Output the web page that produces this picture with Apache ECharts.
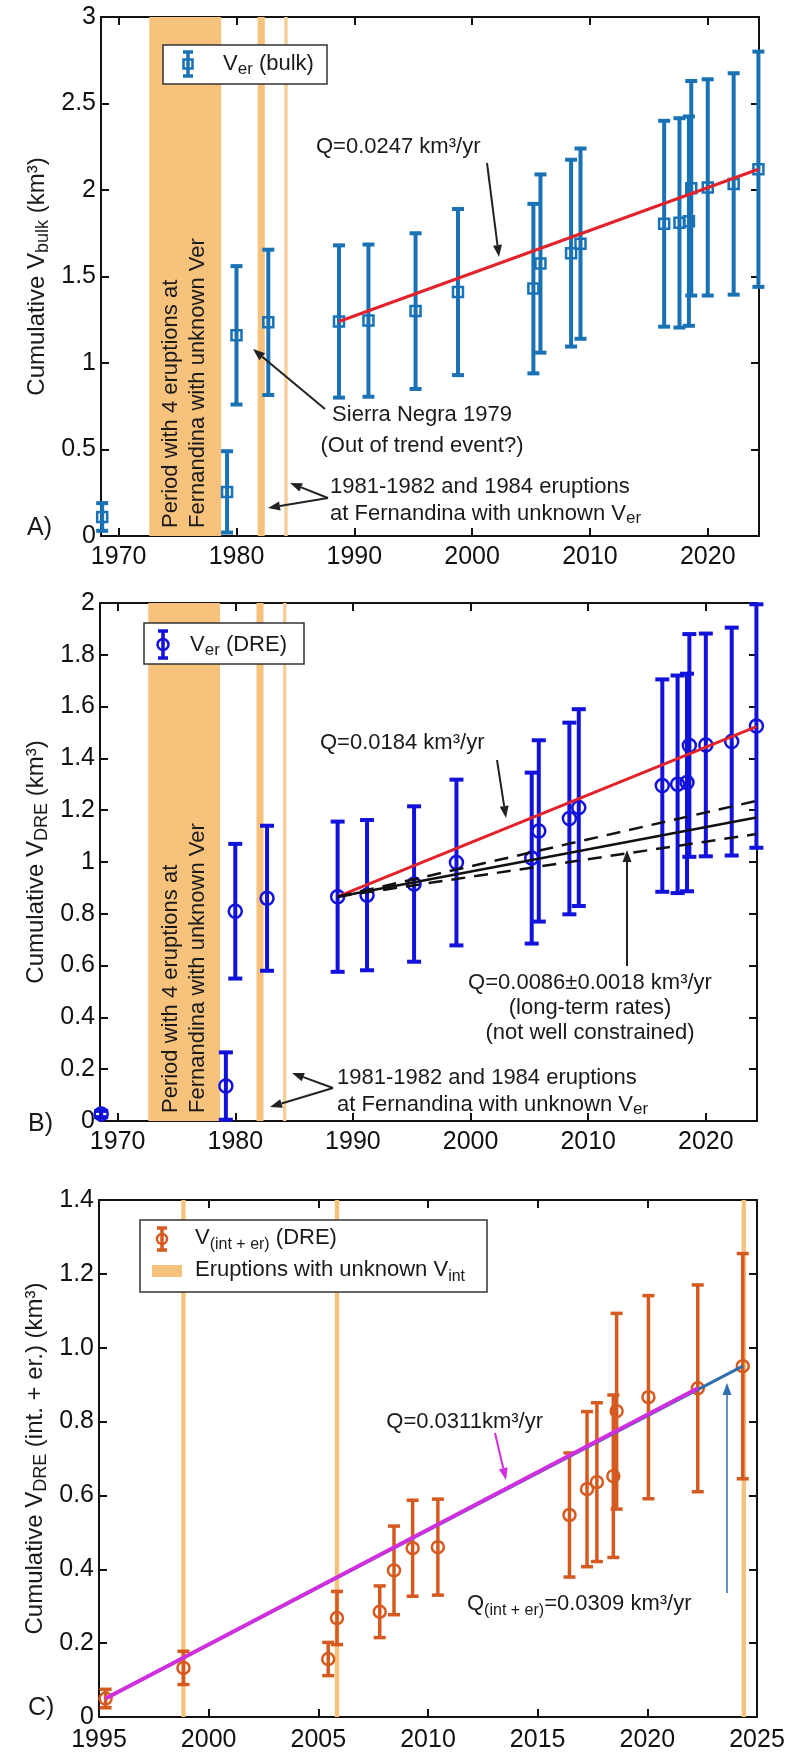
<!DOCTYPE html>
<html>
<head>
<meta charset="utf-8">
<title>Cumulative erupted volumes</title>
<script src="https://cdn.jsdelivr.net/npm/echarts@6/dist/echarts.min.js"></script>
<style>
	html, body { margin: 0; padding: 0; background: #fff; }
	#chart { width: 787px; height: 1755px; }
</style>
</head>
<body>
<div id="chart"></div>
<script>
	// eruption dates, panels A and B
	let yearsAB = [1968.6, 1979.2, 1980.0, 1982.7, 1988.7, 1991.2, 1995.2, 1998.8, 2005.2, 2005.8, 2008.4, 2009.2, 2016.3, 2017.6, 2018.4, 2018.6, 2020.0, 2022.2, 2024.3];
	// A) cumulative bulk volume and its error
	let bulkVol = [0.11, 0.255, 1.16, 1.235, 1.24, 1.245, 1.30, 1.41, 1.43, 1.575, 1.635, 1.69, 1.805, 1.81, 1.82, 2.01, 2.015, 2.035, 2.12];
	let bulkErr = [0.08, 0.235, 0.40, 0.42, 0.44, 0.44, 0.45, 0.48, 0.49, 0.515, 0.54, 0.55, 0.595, 0.605, 0.605, 0.62, 0.625, 0.64, 0.68];
	// B) cumulative DRE volume and its error
	let dreVol = [0.027, 0.135, 0.81, 0.86, 0.866, 0.872, 0.915, 0.998, 1.015, 1.12, 1.168, 1.21, 1.295, 1.30, 1.307, 1.45, 1.452, 1.465, 1.525];
	let dreErr = [0.012, 0.13, 0.26, 0.28, 0.29, 0.29, 0.30, 0.32, 0.33, 0.35, 0.37, 0.38, 0.41, 0.42, 0.42, 0.43, 0.43, 0.44, 0.47];
	// C) intrusive + erupted DRE volume
	let yearsC = [1995.3, 1998.85, 2005.45, 2005.85, 2007.8, 2008.45, 2009.3, 2010.45, 2016.45, 2017.25, 2017.7, 2018.45, 2018.6, 2020.05, 2022.3, 2024.35];
	let intVol = [0.05, 0.133, 0.157, 0.268, 0.285, 0.397, 0.457, 0.46, 0.547, 0.617, 0.636, 0.652, 0.828, 0.866, 0.89, 0.95];
	let intErr = [0.025, 0.045, 0.045, 0.072, 0.07, 0.12, 0.13, 0.13, 0.168, 0.21, 0.215, 0.22, 0.265, 0.275, 0.28, 0.305];

	// eruptions with unknown volume
	let unknownPeriods = [[1972.6, 1978.7], [1981.8, 1982.4], [1984.05, 1984.35]];
	let unknownIntYears = [1998.85, 2005.85, 2024.4];

	// fitted rates (end points)
	let fitBulkX = [1988.7, 2024.3];
	let fitBulkY = [1.24, 2.12];
	let fitDreX = [1988.7, 2024.3];
	let fitDreY = [0.866, 1.523];
	let longTermX = [1988.7, 2024.3];
	let longTermY = [0.866, 1.172];
	let longTermHiY = [0.866, 1.236];
	let longTermLoY = [0.866, 1.108];
	let fitIntX = [1995.3, 2024.35];
	let fitIntY = [0.05, 0.95];
	let fitInt2X = [1995.3, 2022.3];
	let fitInt2Y = [0.05, 0.89];

	let ticksAB = [1970, 1980, 1990, 2000, 2010, 2020];

	const FONT = '"Liberation Sans", Arial, Helvetica, sans-serif';
	const TXT = '#1a1a1a';
	const AX = '#111';
	const ORANGE = '#f6c27c';
	const ORANGE_LIGHT = '#f5cf9c';

	function pairs(xs, ys) {
		return xs.map((x, i) => [x, ys[i]]);
	}

	function triples(xs, ys, es) {
		return xs.map((x, i) => [x, ys[i], es[i]]);
	}

	function richSet(size, subSize, lh, subLh) {
		return {
			n: { fontFamily: FONT, fontSize: size, lineHeight: lh, color: TXT },
			s: { fontFamily: FONT, fontSize: subSize, lineHeight: subLh, verticalAlign: 'bottom', color: TXT }
		};
	}

	let annRich = richSet(22, 17, 27, 14);
	let annRichC = richSet(22, 16, 30, 12);

	function grid(left, top, width, height) {
		return { left: left, top: top, width: width, height: height, outerBoundsMode: 'none', containLabel: false };
	}

	function xAxes(gi, min, max, custom, interval, margin) {
		let tick = { show: true, inside: true, length: 8, lineStyle: { color: AX, width: 2 } };
		let lab = { fontFamily: FONT, fontSize: 25, color: AX, margin: margin, formatter: v => String(v) };
		if (custom) {
			tick.customValues = custom;
			lab.customValues = custom;
		}
		let bottom = {
			type: 'value', gridIndex: gi, min: min, max: max, position: 'bottom',
			axisLine: { show: true, onZero: false, lineStyle: { color: AX, width: 2 } },
			axisTick: tick, axisLabel: lab, splitLine: { show: false }
		};
		if (interval) bottom.interval = interval;
		let top = Object.assign({}, bottom, {
			position: 'top',
			axisLabel: Object.assign({}, lab, { show: false })
		});
		return [bottom, top];
	}

	function yAxes(gi, max, interval, name, fmt) {
		let left = {
			type: 'value', gridIndex: gi, min: 0, max: max, interval: interval, position: 'left',
			axisLine: { show: true, onZero: false, lineStyle: { color: AX, width: 2 } },
			axisTick: { show: true, inside: true, length: 8, lineStyle: { color: AX, width: 2 } },
			axisLabel: { fontFamily: FONT, fontSize: 25, color: AX, margin: 5, formatter: fmt },
			splitLine: { show: false },
			name: name, nameLocation: 'middle', nameRotate: 90, nameGap: 49, nameMoveOverlap: false,
			nameTextStyle: { fontFamily: FONT, fontSize: 24, color: TXT, rich: richSet(24, 18, 30, 16) }
		};
		let right = Object.assign({}, left, {
			position: 'right', name: '',
			axisLabel: { show: false }
		});
		return [left, right];
	}

	function bandSeries(xi, yi, data) {
		return {
			type: 'custom', xAxisIndex: xi, yAxisIndex: yi, z: 1, silent: true,
			encode: { x: [0, 1] },
			data: data,
			renderItem: function(params, api) {
				let x0 = api.coord([api.value(0), 0])[0];
				let x1 = api.coord([api.value(1), 0])[0];
				let cs = params.coordSys;
				return {
					type: 'rect',
					shape: { x: x0, y: cs.y, width: Math.max(x1 - x0, 2), height: cs.height },
					style: { fill: params.dataIndex === 2 ? ORANGE_LIGHT : ORANGE }
				};
			}
		};
	}

	function lineBandSeries(xi, yi, data) {
		return {
			type: 'custom', xAxisIndex: xi, yAxisIndex: yi, z: 1, silent: true,
			encode: { x: 0 },
			data: data.map(v => [v]),
			renderItem: function(params, api) {
				let x = api.coord([api.value(0), 0])[0];
				let cs = params.coordSys;
				return {
					type: 'rect',
					shape: { x: x - 2.2, y: cs.y, width: 4.4, height: cs.height },
					style: { fill: ORANGE }
				};
			}
		};
	}

	function errSeries(xi, yi, data, color, marker, opt) {
		return {
			type: 'custom', xAxisIndex: xi, yAxisIndex: yi, z: 3,
			encode: { x: 0, y: 1 },
			data: data,
			renderItem: function(params, api) {
				let x = api.value(0), y = api.value(1), e = api.value(2);
				let p = api.coord([x, y]);
				let hi = api.coord([x, y + e])[1];
				let lo = api.coord([x, y - e])[1];
				let w = opt.cap;
				let st = { stroke: color, lineWidth: opt.lw };
				let children = [
					{ type: 'line', shape: { x1: p[0], y1: hi, x2: p[0], y2: lo }, style: st },
					{ type: 'line', shape: { x1: p[0] - w, y1: hi, x2: p[0] + w, y2: hi }, style: st },
					{ type: 'line', shape: { x1: p[0] - w, y1: lo, x2: p[0] + w, y2: lo }, style: st }
				];
				if (marker === 'square') {
					children.push({ type: 'rect', shape: { x: p[0] - opt.size, y: p[1] - opt.size, width: opt.size * 2, height: opt.size * 2 },
						style: { fill: 'none', stroke: color, lineWidth: opt.mlw } });
				} else {
					children.push({ type: 'circle', shape: { cx: p[0], cy: p[1], r: opt.size },
						style: { fill: 'none', stroke: color, lineWidth: opt.mlw } });
				}
				return { type: 'group', children: children };
			}
		};
	}

	function fitSeries(xi, yi, data, color, width, dash, z) {
		return {
			type: 'line', xAxisIndex: xi, yAxisIndex: yi, z: z || 4, silent: true,
			data: data, showSymbol: false, symbol: 'none',
			lineStyle: { color: color, width: width, type: dash || 'solid' }
		};
	}

	// annotation helpers (pixel positions)
	function label(x, y, text, align, rich) {
		return {
			type: 'text', x: x, y: y, z: 60,
			style: { text: text, fontFamily: FONT, fontSize: 22, fill: TXT, align: align || 'left', verticalAlign: 'middle', rich: rich || annRich }
		};
	}

	function arrow(x1, y1, x2, y2, color, lw) {
		let a = Math.atan2(y2 - y1, x2 - x1);
		let L = 12, W = 4.5;
		let bx = x2 - L * Math.cos(a), by = y2 - L * Math.sin(a);
		let px = -Math.sin(a) * W, py = Math.cos(a) * W;
		return [
			{ type: 'line', z: 60, shape: { x1: x1, y1: y1, x2: bx, y2: by }, style: { stroke: color, lineWidth: lw } },
			{ type: 'polygon', z: 60, shape: { points: [[x2, y2], [bx + px, by + py], [bx - px, by - py]] }, style: { fill: color } }
		];
	}

	function errIcon(x, y0, y1, color, marker, size) {
		let cy = (y0 + y1) / 2;
		let st = { stroke: color, lineWidth: 3.5 };
		let items = [
			{ type: 'line', z: 61, shape: { x1: x, y1: y0, x2: x, y2: y1 }, style: st },
			{ type: 'line', z: 61, shape: { x1: x - 5, y1: y0, x2: x + 5, y2: y0 }, style: st },
			{ type: 'line', z: 61, shape: { x1: x - 5, y1: y1, x2: x + 5, y2: y1 }, style: st }
		];
		if (marker === 'square') {
			items.push({ type: 'rect', z: 61, shape: { x: x - size, y: cy - size, width: size * 2, height: size * 2 }, style: { fill: 'none', stroke: color, lineWidth: 2.5 } });
		} else {
			items.push({ type: 'circle', z: 61, shape: { cx: x, cy: cy, r: size }, style: { fill: 'none', stroke: color, lineWidth: 2.5 } });
		}
		return items;
	}

	function box(x, y, w, h) {
		return { type: 'rect', z: 59, shape: { x: x, y: y, width: w, height: h }, style: { fill: '#fff', stroke: '#333', lineWidth: 1.5 } };
	}

	function rotated(x, y, text) {
		return {
			type: 'text', x: x, y: y, z: 60, rotation: Math.PI / 2,
			style: { text: text, fontFamily: FONT, fontSize: 22, lineHeight: 27, fill: TXT, align: 'left', verticalAlign: 'middle' }
		};
	}

	const BLUE_A = '#1a72b6';
	const BLUE_B = '#1212dc';
	const ORANGE_C = '#d65a1f';
	const RED = '#e3232b';
	const MAGENTA = '#cf2fdc';
	const BLUE_C = '#2f6fae';

	let graphics = [].concat(
		// panel A
		[box(163, 45, 164, 39)],
		errIcon(188, 52, 76, BLUE_A, 'square', 4.5),
		[label(223, 64, '{n|V}{s|er}{n| (bulk)}')],
		[label(316, 147, '{n|Q=0.0247 km³/yr}')],
		arrow(487, 163, 499, 257, '#222', 2),
		[label(422, 430, '{n|Sierra Negra 1979}\n{n|(Out of trend event?)}', 'center', richSet(22, 17, 31, 14))],
		arrow(325, 409, 253, 349, '#222', 2),
		[label(330, 500, '{n|1981-1982 and 1984 eruptions}\n{n|at Fernandina with unknown V}{s|er}')],
		arrow(328, 498, 268, 508, '#222', 2),
		arrow(328, 498, 290, 483, '#222', 2),
		[rotated(184, 528, 'Period with 4 eruptions at\nFernandina with unknown Ver')],
		[{ type: 'text', x: 27, y: 528, z: 60, style: { text: 'A)', fontFamily: FONT, fontSize: 25, fill: TXT, verticalAlign: 'middle' } }],
		// panel B
		[box(144, 623, 160, 41)],
		errIcon(163, 631, 658, BLUE_B, 'circle', 5.5),
		[label(190, 645, '{n|V}{s|er}{n| (DRE)}')],
		[label(320, 743, '{n|Q=0.0184 km³/yr}')],
		arrow(497, 760, 506, 818, '#222', 2),
		[label(590, 1008, '{n|Q=0.0086±0.0018 km³/yr}\n{n|(long-term rates)}\n{n|(not well constrained)}', 'center', richSet(22, 17, 25, 14))],
		arrow(627, 966, 627, 850, '#222', 2),
		[label(337, 1091, '{n|1981-1982 and 1984 eruptions}\n{n|at Fernandina with unknown V}{s|er}')],
		arrow(333, 1088, 270, 1107, '#222', 2),
		arrow(333, 1088, 292, 1073, '#222', 2),
		[rotated(184, 1113, 'Period with 4 eruptions at\nFernandina with unknown Ver')],
		[{ type: 'text', x: 28, y: 1124, z: 60, style: { text: 'B)', fontFamily: FONT, fontSize: 25, fill: TXT, verticalAlign: 'middle' } }],
		// panel C
		[box(140, 1220, 347, 72)],
		errIcon(162, 1228, 1250, ORANGE_C, 'circle', 5),
		[label(195, 1238, '{n|V}{s|(int + er)}{n| (DRE)}', 'left', annRichC)],
		[{ type: 'rect', z: 60, shape: { x: 152, y: 1265, width: 30, height: 12 }, style: { fill: ORANGE } }],
		[label(195, 1270, '{n|Eruptions with unknown V}{s|int}', 'left', annRichC)],
		[label(543, 1422, '{n|Q=0.0311km³/yr}', 'right')],
		arrow(495, 1433, 506, 1480, MAGENTA, 2),
		[label(467, 1604, '{n|Q}{s|(int + er)}{n|=0.0309 km³/yr}', 'left', annRichC)],
		arrow(727, 1593, 727, 1383, BLUE_C, 1.5),
		[{ type: 'text', x: 28, y: 1708, z: 60, style: { text: 'C)', fontFamily: FONT, fontSize: 25, fill: TXT, verticalAlign: 'middle' } }]
	);

	let c1Fmt = v => (v === 0 ? '0' : v.toFixed(1));

	let option = {
		backgroundColor: '#fff',
		animation: false,
		grid: [
			grid(101, 17, 658, 519),
			grid(100, 603, 657, 518),
			grid(99, 1200, 658, 517)
		],
		xAxis: [].concat(
			xAxes(0, 1968.5, 2024.35, ticksAB, null, 9),
			xAxes(1, 1968.5, 2024.35, ticksAB, null, 9),
			xAxes(2, 1995, 2025, null, 5, 11)
		),
		yAxis: [].concat(
			yAxes(0, 3, 0.5, '{n|Cumulative V}{s|bulk}{n| (km³)}'),
			yAxes(1, 2, 0.2, '{n|Cumulative V}{s|DRE}{n| (km³)}'),
			yAxes(2, 1.4, 0.2, '{n|Cumulative V}{s|DRE}{n| (int. + er.) (km³)}', c1Fmt)
		),
		series: [
			bandSeries(0, 0, unknownPeriods),
			errSeries(0, 0, triples(yearsAB, bulkVol, bulkErr), BLUE_A, 'square', { lw: 4, cap: 6, size: 5, mlw: 2.5 }),
			fitSeries(0, 0, pairs(fitBulkX, fitBulkY), RED, 3),

			bandSeries(2, 2, unknownPeriods),
			errSeries(2, 2, triples(yearsAB, dreVol, dreErr), BLUE_B, 'circle', { lw: 4, cap: 7, size: 6.5, mlw: 2.5 }),
			fitSeries(2, 2, pairs(fitDreX, fitDreY), RED, 3),
			fitSeries(2, 2, pairs(longTermX, longTermY), '#111', 2.5),
			fitSeries(2, 2, pairs(longTermX, longTermHiY), '#111', 2.5, [14, 9]),
			fitSeries(2, 2, pairs(longTermX, longTermLoY), '#111', 2.5, [14, 9]),

			lineBandSeries(4, 4, unknownIntYears),
			errSeries(4, 4, triples(yearsC, intVol, intErr), ORANGE_C, 'circle', { lw: 3.5, cap: 6, size: 6, mlw: 2.5 }),
			fitSeries(4, 4, pairs(fitIntX, fitIntY), BLUE_C, 3, null, 4),
			fitSeries(4, 4, pairs(fitInt2X, fitInt2Y), MAGENTA, 4, null, 5)
		],
		graphic: graphics
	};

	let chart = echarts.init(document.getElementById('chart'));
	chart.setOption(option);
	window.addEventListener('resize', function() {
		chart.resize();
	});
</script>
</body>
</html>
